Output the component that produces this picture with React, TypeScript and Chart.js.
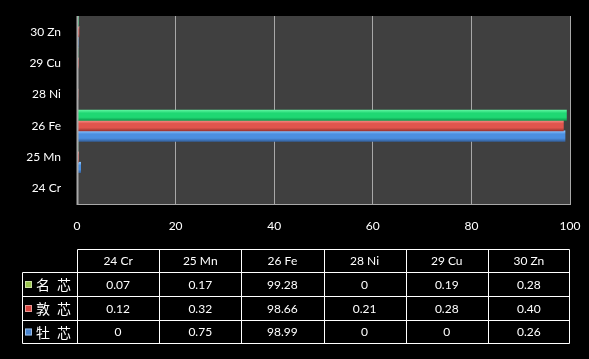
import React, { useEffect, useRef } from "react";
import { Chart, registerables } from "chart.js";

Chart.register(...registerables);

const elements = ["24 Cr", "25 Mn", "26 Fe", "28 Ni", "29 Cu", "30 Zn"];
const seriesNames = ["名 芯", "敦 芯", "牡 芯"];
const mingXin = [0.07, 0.17, 99.28, 0, 0.19, 0.28];
const dunXin = [0.12, 0.32, 98.66, 0.21, 0.28, 0.4];
const muXin = [0, 0.75, 98.99, 0, 0, 0.26];
const xTicks = [0, 20, 40, 60, 80, 100];

const barShades = [
  ["#5ef5a0", "#1fd873", "#0d9c4e"],
  ["#f59088", "#e0554d", "#9c3530"],
  ["#8cc6ff", "#4b8fe0", "#35629e"],
];
const markerColors = ["#9cc450", "#d8453f", "#4a86d0"];

const FONT = "Lato, 'Open Sans', 'Liberation Sans', sans-serif";

function fmt(v: number) {
  return v === 0 ? "0" : v.toFixed(2);
}

export default function App() {
  const ref = useRef<HTMLCanvasElement | null>(null);
  useEffect(() => {
    const canvas = ref.current!;
    const revLabels = [...elements].reverse();
    const allSeries = [mingXin, dunXin, muXin];
    const n = revLabels.length;

    const gradFor = (ctx: any) => {
      const chart = ctx.chart;
      const ds = ctx.datasetIndex;
      const ys = chart.scales && chart.scales.y;
      const shades = barShades[ds];
      if (!ys || ys.top === undefined || ctx.dataIndex === undefined) return shades[1];
      const band = (ys.bottom - ys.top) / n;
      const center = ys.getPixelForValue(ctx.dataIndex);
      const top = center - band / 2 + (ds * band) / 3;
      const bot = top + band / 3;
      const g = chart.ctx.createLinearGradient(0, top, 0, bot);
      g.addColorStop(0, shades[0]);
      g.addColorStop(0.3, shades[1]);
      g.addColorStop(0.7, shades[1]);
      g.addColorStop(1, shades[2]);
      return g;
    };

    const bgPlugin = {
      id: "bg",
      beforeDraw(chart: any) {
        const c = chart.ctx;
        const a = chart.chartArea;
        c.save();
        c.fillStyle = "#000000";
        c.fillRect(0, 0, chart.width, chart.height);
        c.fillStyle = "#404040";
        c.fillRect(a.left, a.top, a.right - a.left, a.bottom - a.top);
        c.restore();
      },
      afterDatasetsDraw(chart: any) {
        const c = chart.ctx;
        const a = chart.chartArea;
        c.save();
        c.strokeStyle = "#a8a8a8";
        c.lineWidth = 2;
        c.beginPath();
        c.moveTo(a.left + 0.5, a.top);
        c.lineTo(a.left + 0.5, a.bottom + 1);
        c.stroke();
        c.restore();
      },
    };

    const tablePlugin = {
      id: "dataTable",
      afterDraw(chart: any) {
        const c = chart.ctx;
        const a = chart.chartArea;
        const colW = (a.right - a.left) / elements.length;
        const rows = [249.5, 272.5, 296.5, 320.5, 343.5];
        const legL = 22.5;
        const L = Math.round(a.left) + 0.5;
        const R = Math.round(a.right) - 0.5;
        c.save();
        c.strokeStyle = "#ffffff";
        c.lineWidth = 1;
        c.beginPath();
        c.moveTo(L, rows[0]);
        c.lineTo(R, rows[0]);
        for (let i = 1; i < rows.length; i++) {
          c.moveTo(legL, rows[i]);
          c.lineTo(R, rows[i]);
        }
        c.moveTo(legL, rows[1]);
        c.lineTo(legL, rows[4]);
        for (let j = 0; j <= elements.length; j++) {
          const x = j === elements.length ? R : Math.round(a.left + j * colW) + 0.5;
          c.moveTo(x, rows[0]);
          c.lineTo(x, rows[4]);
        }
        c.stroke();

        c.fillStyle = "#ffffff";
        c.textAlign = "center";
        c.textBaseline = "middle";
        c.font = `12px ${FONT}`;
        for (let j = 0; j < elements.length; j++) {
          const cx = a.left + (j + 0.5) * colW;
          c.fillText(elements[j], cx, (rows[0] + rows[1]) / 2);
          for (let s = 0; s < allSeries.length; s++) {
            c.fillText(fmt(allSeries[s][j]), cx, (rows[s + 1] + rows[s + 2]) / 2 + 0.5);
          }
        }
        for (let s = 0; s < seriesNames.length; s++) {
          const cy = (rows[s + 1] + rows[s + 2]) / 2;
          c.fillStyle = markerColors[s];
          c.fillRect(25, cy - 3.5, 7, 7);
          c.strokeStyle = "rgba(255,255,255,0.45)";
          c.strokeRect(25.5, cy - 3, 6, 6);
          c.fillStyle = "#ffffff";
          c.textAlign = "left";
          c.font = `14px 'Noto Sans CJK SC', sans-serif`;
          const parts = seriesNames[s].split(" ");
          c.fillText(parts[0], 36, cy + 0.5);
          c.fillText(parts[1], 57, cy + 0.5);
        }
        c.restore();
      },
    };

    const chart = new Chart(canvas, {
      type: "bar",
      data: {
        labels: revLabels,
        datasets: allSeries.map((arr, i) => ({
          label: seriesNames[i],
          data: [...arr].reverse(),
          backgroundColor: gradFor,
          borderWidth: 0,
          categoryPercentage: 1,
          barPercentage: 1,
        })),
      },
      options: {
        indexAxis: "y",
        animation: false,
        responsive: false,
        maintainAspectRatio: false,
        layout: { padding: { top: 16, right: 19, left: 0, bottom: 0 } },
        plugins: { legend: { display: false }, tooltip: { enabled: false } },
        scales: {
          x: {
            min: 0,
            max: 100,
            afterBuildTicks: (scale: any) => {
              scale.ticks = xTicks.map((v) => ({ value: v }));
            },
            afterFit: (scale: any) => {
              scale.height = 155;
              scale.paddingLeft = 0;
              scale.paddingRight = 0;
            },
            grid: { color: "#a8a8a8", drawTicks: false, lineWidth: 1 },
            border: { display: true, color: "#a8a8a8" },
            ticks: { color: "#ffffff", padding: 15, font: { family: FONT, size: 12 } },
          },
          y: {
            afterFit: (scale: any) => {
              scale.width = 77;
              scale.paddingTop = 0;
              scale.paddingBottom = 0;
            },
            grid: { display: false, drawTicks: false },
            border: { display: true, color: "#a8a8a8" },
            ticks: { color: "#ffffff", padding: 16, font: { family: FONT, size: 12 } },
          },
        },
      },
      plugins: [bgPlugin, tablePlugin],
    } as any);
    return () => chart.destroy();
  }, []);

  return (
    <div style={{ position: "fixed", left: 0, top: 0, width: 589, height: 359, background: "#000" }}>
      <canvas ref={ref} width={589} height={359} style={{ display: "block", width: 589, height: 359 }} />
    </div>
  );
}
